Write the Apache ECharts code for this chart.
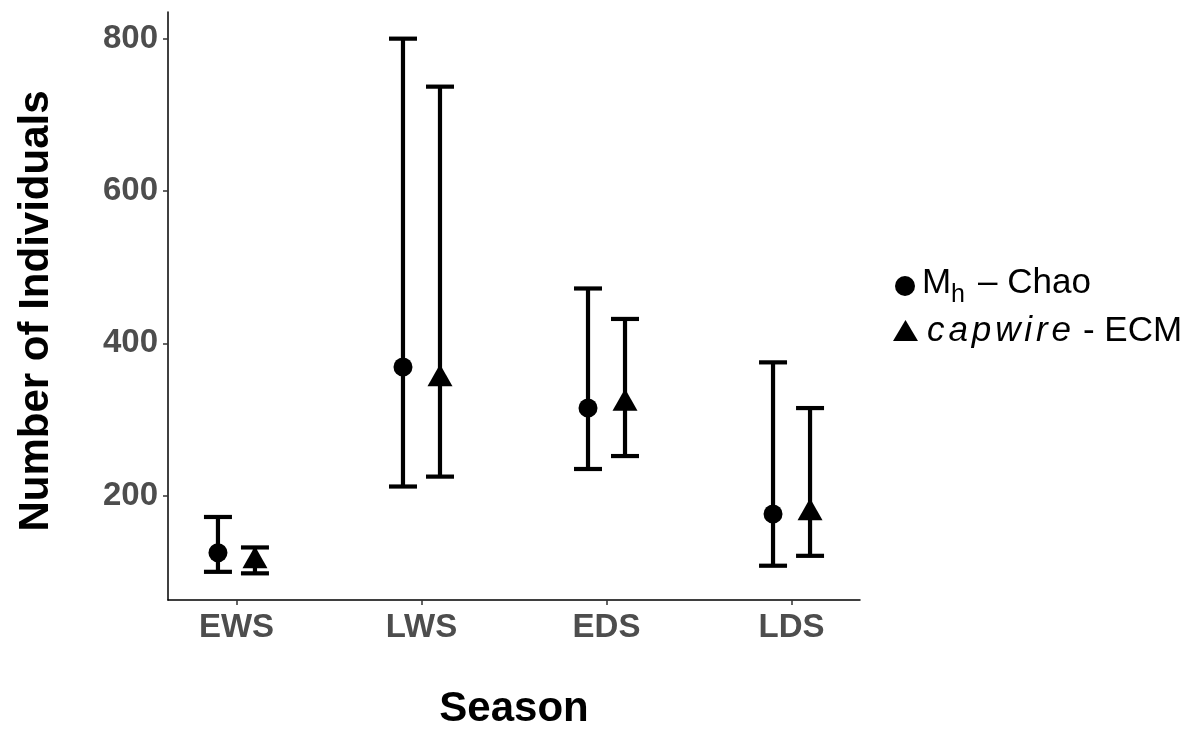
<!DOCTYPE html>
<html>
<head>
<meta charset="utf-8">
<script src="https://cdn.jsdelivr.net/npm/echarts@6/dist/echarts.min.js"></script>
<style>html,body{margin:0;padding:0;background:#fff}#chart{width:1200px;height:729px}</style>
</head>
<body>
<div id="chart"></div>
<script>
const seasons = ['EWS', 'LWS', 'EDS', 'LDS'];
const yTicks = [200, 400, 600, 800];
// Mh - Chao estimates with confidence limits
const chaoEst = [125, 369, 315, 176];
const chaoLow = [100, 212, 235, 108];
const chaoHigh = [172, 800, 472, 375];
// capwire - ECM estimates with confidence limits
const capEst = [119, 358, 326, 182];
const capLow = [98, 225, 252, 121];
const capHigh = [132, 737, 432, 315];

const DODGE = 0.1;
const FONT = '"Liberation Sans", Arial, Helvetica, sans-serif';

function xPos(i, side) { return i + 1 + side * DODGE; }

const chaoPts = chaoEst.map((v, i) => [xPos(i, -1), v]);
const capPts = capEst.map((v, i) => [xPos(i, 1), v]);
const chaoBars = chaoEst.map((v, i) => [xPos(i, -1), chaoLow[i], chaoHigh[i]]);
const capBars = capEst.map((v, i) => [xPos(i, 1), capLow[i], capHigh[i]]);

function renderErr(params, api) {
  const x = api.value(0);
  const lo = api.coord([x, api.value(1)]);
  const hi = api.coord([x, api.value(2)]);
  const half = 14;
  const style = { stroke: '#000', lineWidth: 4.2, fill: 'none' };
  return {
    type: 'group',
    children: [
      { type: 'line', shape: { x1: lo[0], y1: lo[1], x2: hi[0], y2: hi[1] }, style },
      { type: 'line', shape: { x1: lo[0] - half, y1: lo[1], x2: lo[0] + half, y2: lo[1] }, style },
      { type: 'line', shape: { x1: hi[0] - half, y1: hi[1], x2: hi[0] + half, y2: hi[1] }, style }
    ]
  };
}

// letter-spaced italic legend word
const italicFont = 'italic 35px ' + FONT;
const ctx = document.createElement('canvas').getContext('2d');
ctx.font = italicFont;
const word = 'capwire';
const wordGraphics = [];
let cx = 927;
for (const ch of word) {
  wordGraphics.push({ type: 'text', x: cx, y: 314, style: { text: ch, font: italicFont, fill: '#000' } });
  cx += ctx.measureText(ch).width + 3.9;
}

const chart = echarts.init(document.getElementById('chart'), null, { renderer: 'canvas' });
const option = {
  animation: false,
  backgroundColor: '#fff',
  grid: { left: 168, right: 340, top: 12, bottom: 129, containLabel: false, outerBoundsMode: 'none' },
  xAxis: {
    type: 'value',
    min: 0.63,
    max: 4.37,
    splitLine: { show: false },
    axisLine: { lineStyle: { color: '#000', width: 1.5 } },
    axisTick: { show: true, length: 5, lineStyle: { color: '#333', width: 1.5 }, customValues: [1, 2, 3, 4] },
    axisLabel: {
      customValues: [1, 2, 3, 4],
      formatter: v => seasons[Math.round(v) - 1] || '',
      color: '#4d4d4d', fontSize: 33, fontWeight: 'bold', fontFamily: FONT, margin: 11
    },
    name: 'Season',
    nameLocation: 'middle',
    nameGap: 88,
    nameTextStyle: { color: '#000', fontSize: 42, fontWeight: 'bold', fontFamily: FONT }
  },
  yAxis: {
    type: 'value',
    min: 63,
    max: 835,
    splitLine: { show: false },
    axisLine: { show: true, lineStyle: { color: '#000', width: 1.5 } },
    axisTick: { show: true, length: 5, lineStyle: { color: '#333', width: 1.5 }, customValues: yTicks },
    axisLabel: {
      customValues: yTicks,
      color: '#4d4d4d', fontSize: 33, fontWeight: 'bold', fontFamily: FONT, margin: 10
    },
    name: 'Number of Individuals',
    nameLocation: 'middle',
    nameGap: 111,
    nameTextStyle: { color: '#000', fontSize: 42, fontWeight: 'bold', fontFamily: FONT, padding: [0, 10, 0, 0] }
  },
  series: [
    { type: 'custom', data: chaoBars, renderItem: renderErr, encode: { x: 0, y: [1, 2] }, z: 2 },
    { type: 'custom', data: capBars, renderItem: renderErr, encode: { x: 0, y: [1, 2] }, z: 2 },
    { type: 'scatter', data: chaoPts, symbol: 'circle', symbolSize: 19, itemStyle: { color: '#000', opacity: 1 }, z: 3 },
    { type: 'scatter', data: capPts, symbol: 'triangle', symbolSize: [25, 22], itemStyle: { color: '#000', opacity: 1 }, z: 3 }
  ],
  graphic: [
    { type: 'circle', shape: { cx: 905, cy: 286, r: 10 }, style: { fill: '#000' } },
    { type: 'text', x: 922, y: 266, style: { text: 'M', font: '35px ' + FONT, fill: '#000' } },
    { type: 'text', x: 951, y: 283, style: { text: 'h', font: '25px ' + FONT, fill: '#000' } },
    { type: 'text', x: 978, y: 266, style: { text: '– Chao', font: '35px ' + FONT, fill: '#000' } },
    { type: 'polygon', shape: { points: [[905.5, 320], [893, 341], [918, 341]] }, style: { fill: '#000' } },
    ...wordGraphics,
    { type: 'text', x: cx + 8, y: 314, style: { text: '- ECM', font: '35px ' + FONT, fill: '#000' } }
  ]
};
chart.setOption(option);
</script>
</body>
</html>
